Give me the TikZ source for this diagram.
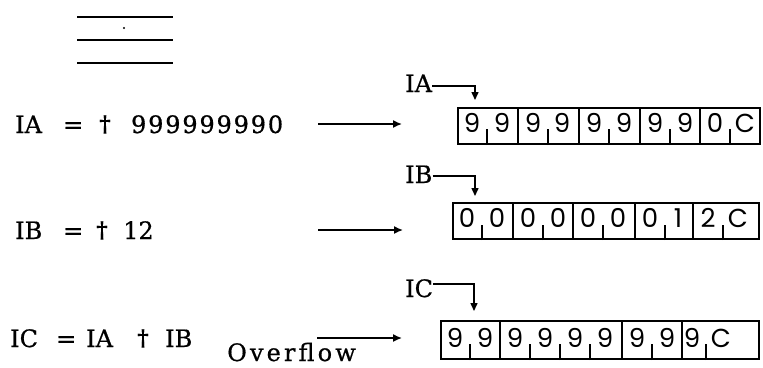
\documentclass[tikz,border=0pt]{standalone}
\usepackage{fontspec}
\setmainfont{DejaVu Serif}[FakeBold=0.6]
\newfontfamily\cellfont{Poppins}
\usetikzlibrary{arrows.meta}
% fixed-pitch digit for the long constant
\newcommand\dg[1]{\makebox[17.1pt]{#1}}
% the operator sign used in the assignments
\newcommand\opsign{\raisebox{1.5pt}{\bfseries\char"2020}}
\tikzset{
  rowtext/.style={anchor=base west, inner sep=0pt, font=\fontsize{24}{24}\selectfont},
  opmark/.style={anchor=base, inner sep=0pt, font=\fontsize{22}{22}\selectfont},
  regbox/.style={draw, line width=1.6pt, anchor=north west, inner sep=0pt},
  sep/.style={line width=1.5pt},
  tick/.style={line width=1.3pt},
  cell/.style={anchor=base, inner sep=0pt, font=\cellfont\fontsize{26}{26}\selectfont},
  flow/.style={line width=1.5pt, -{Latex[length=9pt,width=8pt]}},
  pointer/.style={line width=1.5pt, -{Triangle[length=8pt,width=7pt]}},
  rule/.style={line width=1.9pt}
}
\begin{document}
\begin{tikzpicture}[x=1pt,y=-1pt]
\useasboundingbox (0,0) rectangle (763,367);

% heading rules
\coordinate (r1a) at (77,17); \coordinate (r1b) at (173,17);
\coordinate (r2a) at (77,40); \coordinate (r2b) at (173,40);
\coordinate (r3a) at (77,63); \coordinate (r3b) at (173,63);
\draw[rule] (r1a) -- (r1b);
\draw[rule] (r2a) -- (r2b);
\draw[rule] (r3a) -- (r3b);
\fill (124,28) circle (1.1pt);

% assignments
\node[rowtext] (a1) at (15,133) {IA};
\node[rowtext] (a2) at (63,133) {=};
\node[opmark] (a3) at (105,133) {\opsign};
\node[rowtext] (a4) at (130,133) {\dg9\dg9\dg9\dg9\dg9\dg9\dg9\dg9\dg0};

\node[rowtext] (b1) at (15,239) {IB};
\node[rowtext] (b2) at (63,239) {=};
\node[opmark] (b3) at (102,239) {\opsign};
\node[rowtext] (b4) at (123,239) {12};

\node[rowtext] (c1) at (10,347) {IC};
\node[rowtext] (c2) at (56,347) {=};
\node[rowtext] (c3) at (86,347) {IA};
\node[opmark] (c4) at (143,347) {\opsign};
\node[rowtext] (c5) at (165,347) {IB};
\node[rowtext, font=\fontsize{24}{24}\selectfont\addfontfeature{LetterSpace=13}] (ovf) at (227,361) {Overflow};

% registers
\node[regbox, minimum width=302pt, minimum height=36pt] (ra) at (457,107) {};
\node[regbox, minimum width=306pt, minimum height=36pt] (rb) at (452,202) {};
\node[regbox, minimum width=318pt, minimum height=38pt] (rc) at (440,320) {};

\foreach \x in {518,579,640,700} \draw[sep] (\x,107) -- (\x,145);
\foreach \x in {513,573,635,693} \draw[sep] (\x,202) -- (\x,240);
\foreach \x in {500,622,682} \draw[sep] (\x,320) -- (\x,360);

\foreach \x in {487,548,609,670,730} \draw[tick] (\x,145) -- (\x,129);
\foreach \x in {482,543,603,665,723} \draw[tick] (\x,240) -- (\x,225);
\foreach \x in {470,530,560,590,652,706} \draw[tick] (\x,360) -- (\x,344);

\foreach \x/\d [count=\i] in {472/9,502/9,533/9,562/9,594/9,624/9,655/9,685/9,715/0,745/C}
  \node[cell] (da\i) at (\x,132) {\d};
\foreach \x/\d [count=\i] in {467/0,497/0,528/0,558/0,588/0,618/0,650/0,678/1,708/2,738/C}
  \node[cell] (db\i) at (\x,227) {\d};
\foreach \x/\d [count=\i] in {455/9,485/9,515/9,545/9,575/9,605/9,637/9,667/9,692/9,721/C}
  \node[cell] (dc\i) at (\x,347) {\d};

% register labels with their pointers
\node[rowtext] (la) at (405,92) {IA};
\node[rowtext] (lb) at (405,183) {IB};
\node[rowtext] (lc) at (405,297) {IC};
\coordinate (pa) at (475,100);
\coordinate (pb) at (475,196);
\coordinate (pc) at (474,311);
\draw[pointer] (la.east |- 0,86) -| (pa);
\draw[pointer] (lb.east |- 0,176) -| (pb);
\draw[pointer] (lc.east |- 0,284) -| (pc);

% transfer arrows
\coordinate (ea) at (402,124);
\coordinate (eb) at (403,230);
\coordinate (ec) at (402,338);
\draw[flow] (318,124) -- (ea);
\draw[flow] (318,230) -- (eb);
\draw[flow] (317,338) -- (ec);
\end{tikzpicture}
\end{document}
